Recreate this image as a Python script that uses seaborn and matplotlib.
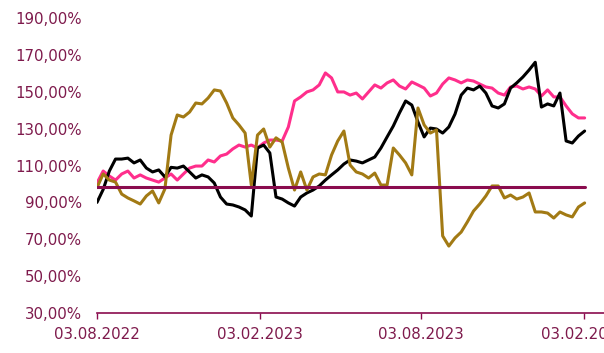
import numpy as np
import pandas as pd
import matplotlib
matplotlib.use("Agg")
import matplotlib.pyplot as plt
import matplotlib.dates as mdates
from matplotlib.ticker import FuncFormatter
import seaborn as sns

# weekly observations, 03.08.2022 .. 04.02.2024 (values in %)
dates = pd.date_range("2022-08-03", "2024-02-04", periods=80)

black = [90, 97, 107, 113.5, 113.5, 114, 111.4, 113, 108.6, 106.5,
         107.6, 103.8, 109, 108.6, 109.7, 106.5, 103.2, 104.9, 103.8, 100.5,
         92.9, 89.1, 88.6, 87.5, 85.9, 82.6, 119.5, 121.1, 116.8, 92.9,
         91.8, 89.7, 88, 92.9, 95.1, 96.7, 98.9, 102.1, 104.9, 107.6,
         110.8, 113, 112.4, 111.4, 113, 114.6, 119.5, 125.5, 131.4, 138.5,
         145, 142.8, 133.6, 125.5, 130.3, 129.8, 127.6, 130.9, 137.9, 148.2,
         152, 151, 153.1, 149.3, 142.3, 141.2, 143.4, 152, 154.8, 158,
         161.8, 166, 141.7, 143.4, 142.3, 149.3, 123.3, 122.2, 126, 128.7]

pink = [100.5, 107, 104.3, 102.1, 105.4, 107, 103.2, 104.9, 103.2, 102.1,
        101, 103.2, 105.4, 102.1, 105.4, 108.6, 109.7, 109.7, 113, 111.9,
        115.2, 116.2, 119, 121.1, 120, 121.1, 119.5, 122.2, 123.8, 123.8,
        123.3, 130.9, 145, 147.2, 149.9, 151, 153.7, 160.2, 157.5, 149.9,
        149.9, 148.2, 149.3, 146.1, 149.9, 153.7, 152, 154.8, 156.4, 153.1,
        151.5, 155.3, 153.7, 152, 147.7, 149.3, 154.2, 157.5, 156.4, 154.8,
        156.4, 155.8, 154.2, 152.6, 152, 149.3, 148.2, 152.6, 153.1, 151.5,
        152.6, 151.5, 147.7, 151, 147.2, 147.2, 142.3, 138, 135.8, 135.8]

gold = [98, 105.4, 102.1, 101, 94.5, 92.4, 90.8, 89.1, 93.5, 96.2,
        89.7, 97.3, 126.5, 137.4, 136.3, 139, 143.9, 143.4, 146.6, 151,
        150.4, 143.9, 135.8, 132, 127.6, 99.4, 126.5, 129.8, 120, 125,
        122.7, 108.6, 96.7, 106.5, 96.7, 103.8, 105.4, 104.9, 115.7, 123.3,
        128.7, 110.3, 106.5, 105.4, 103.2, 105.9, 99.4, 99.4, 119.5, 115.7,
        111.4, 104.9, 141.2, 132, 127.6, 129.3, 71.8, 66.3, 70.7, 73.9,
        79.4, 85.3, 89.1, 93.5, 98.9, 98.9, 92.4, 94, 91.8, 92.9,
        95.1, 84.8, 84.8, 84.2, 81.5, 84.8, 83.2, 82.1, 87.5, 89.7]

level = 98.3
y_ticks = [30, 50, 70, 90, 110, 130, 150, 170, 190]
x_ticks = ["2022-08-03", "2023-02-03", "2023-08-03", "2024-02-03"]

text_col = "#7E1A4C"
line_col = "#8A0C4E"

sns.set_theme(style="white")
plt.rcParams["font.family"] = ["DejaVu Sans"]

fig = plt.figure(figsize=(6.04, 3.53), dpi=100)
ax = fig.add_axes([0.1606, 0.1133, 0.8455, 0.8357])

sns.lineplot(x=dates, y=pink, ax=ax, color="#FF2E8C", lw=2.2)
sns.lineplot(x=dates, y=black, ax=ax, color="#000000", lw=2.2)
sns.lineplot(x=dates, y=gold, ax=ax, color="#A27A14", lw=2.2)
sns.lineplot(x=[dates[0], dates[-1]], y=[level, level], ax=ax, color=line_col, lw=2.2)

ax.set_ylim(30, 190)
ax.set_xlim(pd.Timestamp("2022-08-03"), pd.Timestamp("2024-03-01"))
ax.set_yticks(y_ticks)
ax.yaxis.set_major_formatter(FuncFormatter(lambda v, p: f"{v:.2f}%".replace(".", ",")))
ax.set_xticks(pd.to_datetime(x_ticks))
ax.xaxis.set_major_formatter(mdates.DateFormatter("%d.%m.%Y"))

for s in ["left", "top", "right"]:
    ax.spines[s].set_visible(False)
ax.spines["bottom"].set_color(line_col)
ax.spines["bottom"].set_linewidth(1.2)

ax.tick_params(axis="y", length=0, pad=11, labelsize=10.8, labelcolor=text_col)
ax.tick_params(axis="x", length=4, width=1, color=line_col, direction="out",
               pad=6, labelsize=10.8, labelcolor=text_col, bottom=True)
ax.set_xlabel("")
ax.set_ylabel("")
ax.grid(False)

plt.savefig("out.png", dpi=100)
